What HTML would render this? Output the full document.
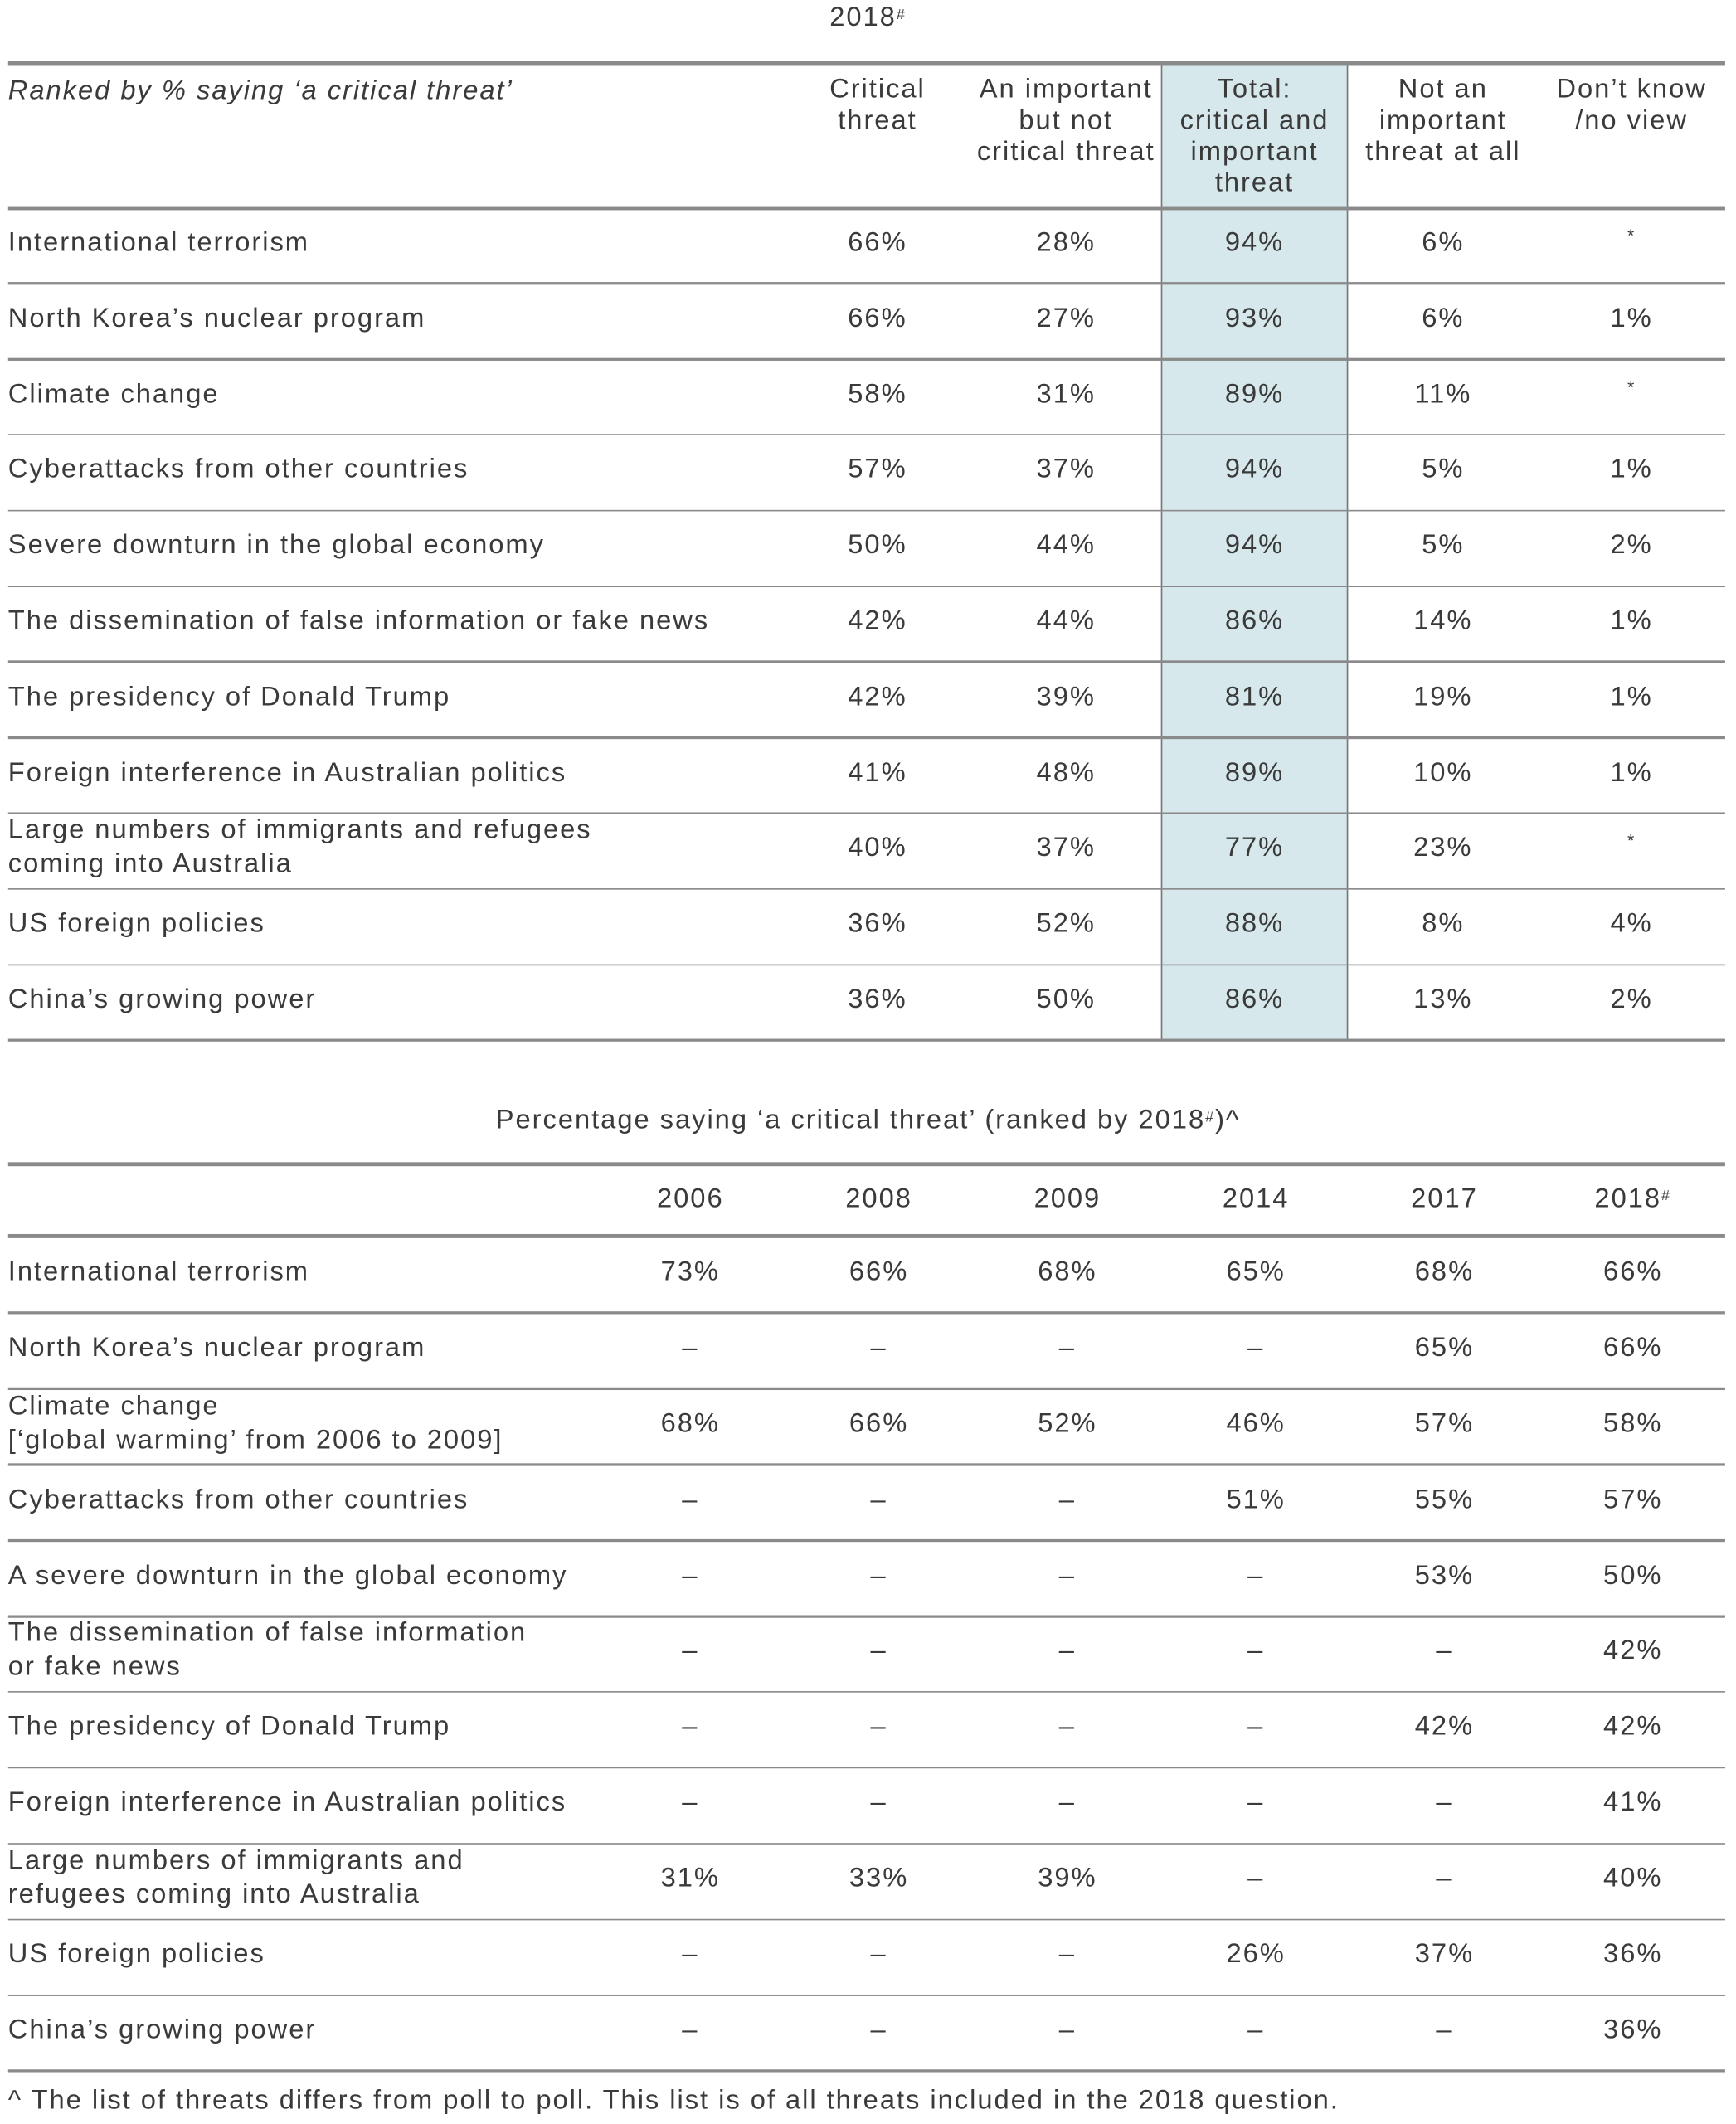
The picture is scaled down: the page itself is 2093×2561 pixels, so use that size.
<!DOCTYPE html>
<html><head><meta charset="utf-8">
<style>
html,body{margin:0;padding:0;background:#fff;}
#wrap{position:absolute;left:0;top:0;width:1280px;height:1566px;transform:scale(1.63516);transform-origin:0 0;font-family:"Liberation Sans",sans-serif;color:#3a3a3a;font-size:20px;letter-spacing:1.2px;}
.t{position:absolute;white-space:nowrap;line-height:24px;}
.c{transform:translateX(-50%);text-align:center;}
.l{position:absolute;left:6px;width:1266px;background:#8a8a8a;}
sup{font-size:11px;vertical-align:top;position:relative;top:-2px;}
</style></head><body>
<div id="wrap">
<div class="t c" style="left:640px;top:1px;">2018<sup>#</sup></div>
<div style="position:absolute;left:856px;top:46px;width:138px;height:721px;background:#d6e8ec;border-left:1.5px solid #777;border-right:1.5px solid #777;box-sizing:border-box;"></div>
<div class="l" style="top:45px;height:3px;"></div>
<div class="t" style="left:6px;top:55px;font-style:italic;">Ranked by % saying ‘a critical threat’</div>
<div class="t c" style="left:647px;top:55px;line-height:23px;">Critical<br>threat</div>
<div class="t c" style="left:786px;top:55px;line-height:23px;">An important<br>but not<br>critical threat</div>
<div class="t c" style="left:925px;top:55px;line-height:23px;">Total:<br>critical and<br>important<br>threat</div>
<div class="t c" style="left:1064px;top:55px;line-height:23px;">Not an<br>important<br>threat at all</div>
<div class="t c" style="left:1203px;top:55px;line-height:23px;">Don’t know<br>/no view</div>
<div class="l" style="top:152px;height:3px;"></div>

<div class="t c" style="left:640px;top:814px;">Percentage saying ‘a critical threat’ (ranked by 2018<sup>#</sup>)^</div>
<div class="l" style="top:857px;height:3px;"></div>
<div class="l" style="top:910px;height:3px;"></div>
<div class="t" style="left:6px;top:1537px;">^ The list of threats differs from poll to poll. This list is of all threats included in the 2018 question.</div>
</div>
<script>
var W=document.getElementById('wrap');
function add(h){W.insertAdjacentHTML('beforeend',h);}
var A=[
["International terrorism","66%","28%","94%","6%","*"],
["North Korea’s nuclear program","66%","27%","93%","6%","1%"],
["Climate change","58%","31%","89%","11%","*"],
["Cyberattacks from other countries","57%","37%","94%","5%","1%"],
["Severe downturn in the global economy","50%","44%","94%","5%","2%"],
["The dissemination of false information or fake news","42%","44%","86%","14%","1%"],
["The presidency of Donald Trump","42%","39%","81%","19%","1%"],
["Foreign interference in Australian politics","41%","48%","89%","10%","1%"],
["Large numbers of immigrants and refugees<br>coming into Australia","40%","37%","77%","23%","*"],
["US foreign policies","36%","52%","88%","8%","4%"],
["China’s growing power","36%","50%","86%","13%","2%"]];
var cx1=[647,786,925,1064,1203];
var top0=153,rh=55.8;
A.forEach(function(r,i){
 var y=top0+i*rh, mid=y+rh/2;
 var two=r[0].indexOf('<br>')>=0;
 add('<div class="t" style="left:6px;top:'+(mid-(two?27:14))+'px;line-height:25px">'+r[0]+'</div>');
 for(var j=1;j<6;j++){var s=r[j]=='*'?'font-size:13px;':'';add('<div class="t c" style="left:'+cx1[j-1]+'px;top:'+(mid-(r[j]=='*'?19:14))+'px;'+s+'">'+r[j]+'</div>');}
 add('<div class="l" style="top:'+(y+rh-0.5)+'px;height:1.5px;"></div>');
});
var B=[
["International terrorism","73%","66%","68%","65%","68%","66%"],
["North Korea’s nuclear program","–","–","–","–","65%","66%"],
["Climate change<br>[‘global warming’ from 2006 to 2009]","68%","66%","52%","46%","57%","58%"],
["Cyberattacks from other countries","–","–","–","51%","55%","57%"],
["A severe downturn in the global economy","–","–","–","–","53%","50%"],
["The dissemination of false information<br>or fake news","–","–","–","–","–","42%"],
["The presidency of Donald Trump","–","–","–","–","42%","42%"],
["Foreign interference in Australian politics","–","–","–","–","–","41%"],
["Large numbers of immigrants and<br>refugees coming into Australia","31%","33%","39%","–","–","40%"],
["US foreign policies","–","–","–","26%","37%","36%"],
["China’s growing power","–","–","–","–","–","36%"]];
var cx2=[509,648,787,926,1065,1204];
var yrs=["2006","2008","2009","2014","2017","2018<sup>#</sup>"];
yrs.forEach(function(y,j){add('<div class="t c" style="left:'+cx2[j]+'px;top:872px;">'+y+'</div>');});
var top1=912,rh2=55.9;
B.forEach(function(r,i){
 var y=top1+i*rh2, mid=y+rh2/2;
 var two=r[0].indexOf('<br>')>=0;
 add('<div class="t" style="left:6px;top:'+(mid-(two?27:14))+'px;line-height:25px">'+r[0]+'</div>');
 for(var j=1;j<7;j++){add('<div class="t c" style="left:'+cx2[j-1]+'px;top:'+(mid-14)+'px;">'+r[j]+'</div>');}
 add('<div class="l" style="top:'+(y+rh2-0.5)+'px;height:1.5px;"></div>');
});
</script>
</body></html>
